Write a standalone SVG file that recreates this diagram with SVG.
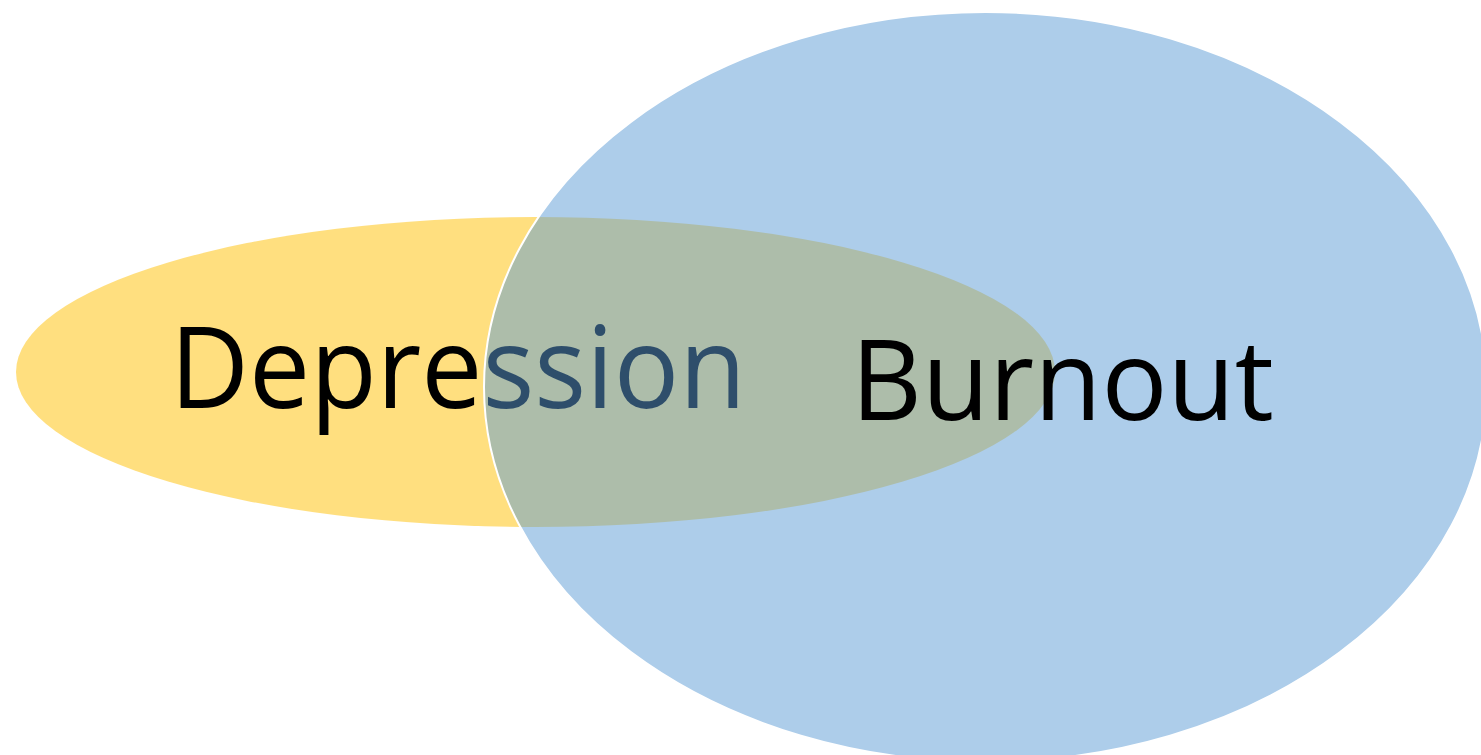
<svg xmlns="http://www.w3.org/2000/svg" width="1481" height="755" viewBox="0 0 1481 755">
<style>
.lbl{font-family:"Open Sans","Liberation Sans",sans-serif;fill:#000000;}
</style>
<rect width="1481" height="755" fill="#ffffff"/>
<g id="depression">
<ellipse cx="535.5" cy="372" rx="519.5" ry="155" fill="#FFC000" fill-opacity="0.5"/>
<text class="lbl" x="170" y="408" font-size="114" textLength="576" lengthAdjust="spacingAndGlyphs">Depression</text>
</g>
<g id="burnout">
<ellipse cx="985.5" cy="387" rx="501.5" ry="375" fill="#5B9BD5" fill-opacity="0.5" stroke="#ffffff" stroke-width="2"/>
<text class="lbl" x="851" y="420" font-size="111" textLength="423" lengthAdjust="spacingAndGlyphs">Burnout</text>
</g>
<g id="connectors"/>
</svg>
